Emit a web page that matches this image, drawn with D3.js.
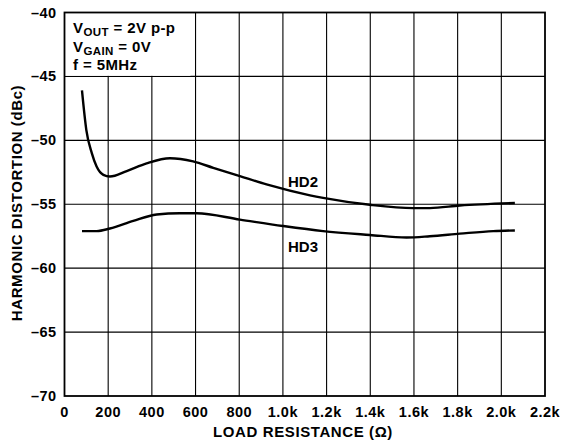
<!DOCTYPE html>
<html>
<head>
<meta charset="utf-8">
<script src="https://cdn.jsdelivr.net/npm/d3@7"></script>
<style>
  body { margin: 0; background: #fff; }
  svg text { font-family: "Liberation Sans", Arial, sans-serif; font-weight: bold; fill: #000; }
</style>
</head>
<body>
<div id="chart"></div>
<script>
// data (ohms, dBc)
var hd2_r  = [80, 100, 125, 147, 178, 208, 285, 376, 483, 589, 681, 803, 925, 1124, 1184, 1398, 1596, 1673, 1810, 2062];
var hd2_db = [-46.1, -49.2, -51.0, -52.05, -52.7, -52.83, -52.4, -51.8, -51.4, -51.65, -52.15, -52.8, -53.45, -54.3, -54.5, -55.04, -55.3, -55.3, -55.1, -54.9];

var hd3_r  = [80, 147, 208, 315, 422, 528, 605, 803, 1000, 1184, 1398, 1566, 1673, 1810, 1963, 2062];
var hd3_db = [-57.1, -57.1, -56.9, -56.3, -55.8, -55.7, -55.7, -56.2, -56.7, -57.1, -57.4, -57.6, -57.5, -57.3, -57.1, -57.05];

var xticks = [0, 200, 400, 600, 800, 1000, 1200, 1400, 1600, 1800, 2000, 2200];
var xtick_labels = ["0", "200", "400", "600", "800", "1.0k", "1.2k", "1.4k", "1.6k", "1.8k", "2.0k", "2.2k"];
var yticks = [-40, -45, -50, -55, -60, -65, -70];

var W = 561, H = 442;
// plot box (note: "top" is taken by window.top)
var pLeft = 64.5, pRight = 545, pTop = 12.5, pBottom = 396;

var svg = d3.select("#chart").append("svg")
    .attr("width", W).attr("height", H);

var x = d3.scaleLinear().domain([0, 2200]).range([pLeft, pRight]);
var y = d3.scaleLinear().domain([-70, -40]).range([pBottom, pTop]);

// grid
svg.append("g").selectAll("line")
    .data(xticks.slice(1, -1))
    .enter().append("line")
    .attr("x1", function(d) { return x(d); })
    .attr("x2", function(d) { return x(d); })
    .attr("y1", pTop).attr("y2", pBottom)
    .attr("stroke", "#000").attr("stroke-width", 1.1);

svg.append("g").selectAll("line")
    .data(yticks.slice(1, -1))
    .enter().append("line")
    .attr("x1", pLeft).attr("x2", pRight)
    .attr("y1", function(d) { return y(d); })
    .attr("y2", function(d) { return y(d); })
    .attr("stroke", "#000").attr("stroke-width", 1.1);

// white box behind the conditions text
svg.append("rect")
    .attr("x", pLeft).attr("y", pTop)
    .attr("width", 126).attr("height", y(-45) - pTop - 0.6)
    .attr("fill", "#fff");

// frame
svg.append("rect")
    .attr("x", pLeft).attr("y", pTop)
    .attr("width", pRight - pLeft).attr("height", pBottom - pTop)
    .attr("fill", "none").attr("stroke", "#000").attr("stroke-width", 1.8);

// tick labels
svg.append("g").selectAll("text")
    .data(yticks)
    .enter().append("text")
    .attr("x", 56.5)
    .attr("y", function(d) { return y(d) + 5; })
    .attr("text-anchor", "end")
    .attr("font-size", "14.5px")
    .attr("letter-spacing", "0.4px")
    .text(function(d) { return "\u2013" + Math.abs(d); });

svg.append("g").selectAll("text")
    .data(xticks)
    .enter().append("text")
    .attr("x", function(d) { return x(d); })
    .attr("y", 416.5)
    .attr("text-anchor", "middle")
    .attr("font-size", "14.5px")
    .attr("letter-spacing", "0.5px")
    .text(function(d, i) { return xtick_labels[i]; });

// axis titles
svg.append("text")
    .attr("x", 303).attr("y", 437)
    .attr("text-anchor", "middle")
    .attr("font-size", "15px")
    .attr("letter-spacing", "0.6px")
    .text("LOAD RESISTANCE (\u03A9)");

svg.append("text")
    .attr("transform", "translate(21.5,203) rotate(-90)")
    .attr("text-anchor", "middle")
    .attr("font-size", "15px")
    .attr("letter-spacing", "0.6px")
    .text("HARMONIC DISTORTION (dBc)");

// curves
var line = d3.line().curve(d3.curveMonotoneX)
    .x(function(d) { return x(d[0]); })
    .y(function(d) { return y(d[1]); });

svg.append("path")
    .datum(d3.zip(hd2_r, hd2_db))
    .attr("d", line)
    .attr("fill", "none").attr("stroke", "#000").attr("stroke-width", 2.4);

svg.append("path")
    .datum(d3.zip(hd3_r, hd3_db))
    .attr("d", line)
    .attr("fill", "none").attr("stroke", "#000").attr("stroke-width", 2.4);

svg.append("text").attr("x", 288).attr("y", 187).attr("font-size", "15px").text("HD2");
svg.append("text").attr("x", 288).attr("y", 252).attr("font-size", "15px").text("HD3");

// conditions
var t1 = svg.append("text").attr("x", 73).attr("y", 32.5).attr("font-size", "15px").attr("letter-spacing", "0.4px");
t1.append("tspan").text("V");
t1.append("tspan").attr("font-size", "11.5px").attr("dy", 3).text("OUT");
t1.append("tspan").attr("dy", -3).text(" = 2V p-p");

var t2 = svg.append("text").attr("x", 73).attr("y", 51.5).attr("font-size", "15px").attr("letter-spacing", "0.4px");
t2.append("tspan").text("V");
t2.append("tspan").attr("font-size", "11.5px").attr("dy", 3).text("GAIN");
t2.append("tspan").attr("dy", -3).text(" = 0V");

svg.append("text").attr("x", 73).attr("y", 70).attr("font-size", "15px")
    .attr("letter-spacing", "0.4px").text("f = 5MHz");
</script>
</body>
</html>
